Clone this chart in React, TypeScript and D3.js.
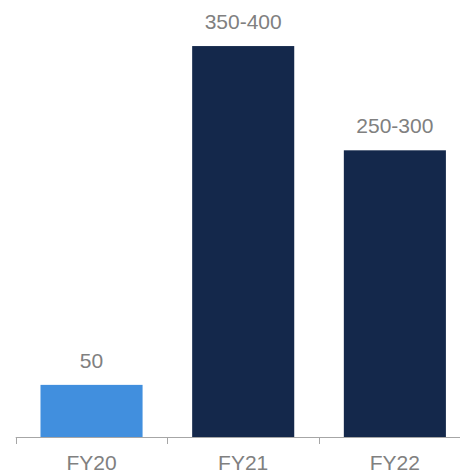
import { useEffect, useRef } from "react";
import * as d3 from "d3";

const categories = ["FY20", "FY21", "FY22"];
const values = [50, 375, 275];
const valueLabels = ["50", "350-400", "250-300"];
const barColors = ["#418fde", "#14284b", "#14284b"];

const WIDTH = 460;
const HEIGHT = 472;

export default function App() {
  const svgRef = useRef<SVGSVGElement | null>(null);

  useEffect(() => {
    document.body.style.margin = "0";
    const svg = svgRef.current;
    if (!svg) return;
    svg.innerHTML = "";

    const root = d3.select(svg).attr("width", WIDTH).attr("height", HEIGHT);

    const x = d3
      .scaleBand()
      .domain(categories)
      .range([15.7, 470.7])
      .paddingInner(0.327)
      .paddingOuter(0.1635);

    const y = d3.scaleLinear().domain([0, 400]).range([437, 20]);

    // bars
    root
      .selectAll("rect.bar")
      .data(values)
      .join("rect")
      .attr("class", "bar")
      .attr("x", (_, i) => x(categories[i])!)
      .attr("width", x.bandwidth())
      .attr("y", (v) => y(v))
      .attr("height", (v) => y(0) - y(v))
      .attr("fill", (_, i) => barColors[i]);

    // value labels
    root
      .selectAll("text.value")
      .data(values)
      .join("text")
      .attr("class", "value")
      .attr("x", (_, i) => x(categories[i])! + x.bandwidth() / 2)
      .attr("y", (v) => y(v) - 17)
      .attr("text-anchor", "middle")
      .attr("font-family", "Liberation Sans, Arial, sans-serif")
      .attr("font-size", 21)
      .attr("fill", "#808080")
      .text((_, i) => valueLabels[i]);

    // x axis
    const [r0, r1] = x.range();
    const axis = root.append("g");
    axis
      .append("line")
      .attr("x1", r0)
      .attr("x2", r1)
      .attr("y1", y(0) + 0.5)
      .attr("y2", y(0) + 0.5)
      .attr("stroke", "#a6a6a6")
      .attr("stroke-width", 1);

    d3.range(categories.length + 1).forEach((i) => {
      const tx = Math.round(r0 + i * x.step()) + 0.5;
      axis
        .append("line")
        .attr("x1", tx)
        .attr("x2", tx)
        .attr("y1", y(0))
        .attr("y2", y(0) + 7)
        .attr("stroke", "#a6a6a6")
        .attr("stroke-width", 1);
    });

    axis
      .selectAll("text")
      .data(categories)
      .join("text")
      .attr("x", (c) => x(c)! + x.bandwidth() / 2)
      .attr("y", 470)
      .attr("text-anchor", "middle")
      .attr("font-family", "Liberation Sans, Arial, sans-serif")
      .attr("font-size", 21)
      .attr("fill", "#808080")
      .text((c) => c);
  }, []);

  return (
    <svg
      ref={svgRef}
      style={{ position: "absolute", left: 0, top: 0, display: "block" }}
    />
  );
}
